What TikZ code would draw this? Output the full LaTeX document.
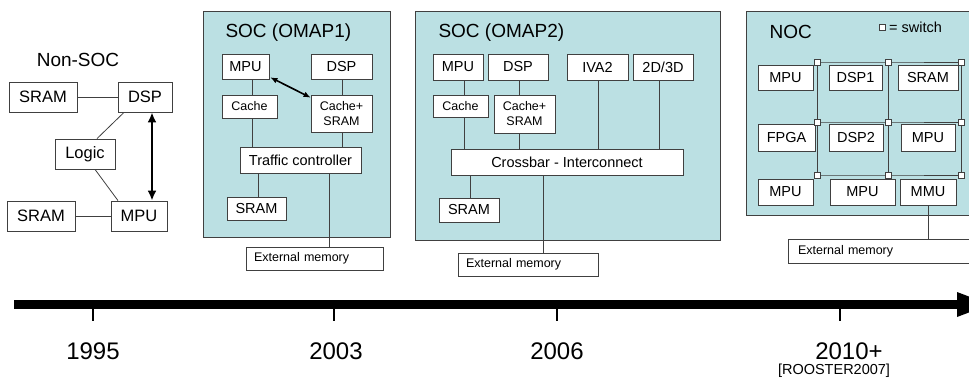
\documentclass[tikz,border=0pt]{standalone}
\usepackage{fontspec}
\setmainfont{Liberation Sans}
\usetikzlibrary{arrows.meta}
\definecolor{socfill}{HTML}{BBE0E3}
\definecolor{edge}{HTML}{404040}
\tikzset{
  box/.style={draw=edge, fill=white, line width=0.8pt, inner sep=0pt, align=center},
  soc/.style={draw=edge, fill=socfill, line width=1pt, inner sep=0pt},
  lbl/.style={font=\fontsize{14.5}{17}\selectfont},
  sml/.style={font=\fontsize{12.5}{15}\selectfont},
  big/.style={font=\fontsize{16.5}{19}\selectfont},
  ttl/.style={font=\fontsize{19}{22}\selectfont},
  yearlbl/.style={font=\fontsize{24}{28}\selectfont},
  conn/.style={draw=edge, line width=0.8pt},
  dbl/.style={{Latex[length=10pt,width=9pt]}-{Latex[length=10pt,width=9pt]}, line width=2.2pt},
  dblsm/.style={{Latex[length=7pt,width=6pt]}-{Latex[length=7pt,width=6pt]}, line width=1.6pt},
  switchbox/.style={draw=edge, fill=white, line width=0.7pt, minimum size=6pt, inner sep=0pt},
  tick/.style={line width=2pt},
}
% box helper: style, x1, y1, x2, y2, node name; text follows
\newcommand\bx[6]{\node[box,#1,minimum width={#4-#2},minimum height={#5-#3}] (#6) at ({(#2+#4)/2},{(#3+#5)/2})}
\begin{document}
\begin{tikzpicture}[x=1pt,y=-1pt]
\useasboundingbox (0,0) rectangle (969,383);

% ---------------- Non-SOC ----------------
\node[ttl] (tNon) at (78,60) {Non-SOC};
\bx{big}{9}{82}{77}{112}{sramA}{SRAM};
\bx{big}{118}{82}{172}{112}{dspA}{DSP};
\bx{big}{55}{139}{115}{169}{logicA}{Logic};
\bx{big}{7}{201}{75}{231}{sramB}{SRAM};
\bx{big}{111}{201}{167}{231}{mpuA}{MPU};
\draw[conn] (sramA) -- (dspA);
\draw[conn] (sramB) -- (mpuA);
\draw[conn] (logicA.north -| 97,0) -- (dspA.south -| 124,0);
\draw[conn] (logicA.south -| 95,0) -- (mpuA.north -| 118,0);
\draw[dbl] (dspA.south -| 152,0) -- (mpuA.north -| 152,0);

% ---------------- SOC (OMAP1) ----------------
\bx{soc}{203}{11}{390}{237}{socA}{};
\node[ttl,anchor=west] (tA) at (222,33) {SOC (OMAP1)};
\bx{lbl}{222}{54}{269}{79}{mpuB}{MPU};
\bx{lbl}{311}{54}{372}{79}{dspB}{DSP};
\bx{sml}{222}{95}{277}{118}{cacheB}{Cache};
\bx{sml}{311}{95}{372}{132}{csB}{Cache+\\SRAM};
\bx{lbl}{240}{147}{361}{173}{tcB}{Traffic controller};
\bx{lbl}{227}{197}{286}{220}{sramC}{SRAM};
\bx{sml,text width=121,align=left}{246}{247}{383}{270}{extB}{External memory};
\draw[conn] (mpuB.south -| 252,0) -- (cacheB.north -| 252,0);
\draw[conn] (cacheB.south -| 252,0) -- (tcB.north -| 252,0);
\draw[conn] (dspB.south -| 342,0) -- (csB.north -| 342,0);
\draw[conn] (csB.south -| 342,0) -- (tcB.north -| 342,0);
\draw[conn] (tcB.south -| 258,0) -- (sramC.north -| 258,0);
\draw[conn] (tcB.south -| 329,0) -- (extB.north -| 329,0);
\draw[dblsm] ([xshift=1pt,yshift=2pt]mpuB.south east) -- ([yshift=-3pt]csB.north west);

% ---------------- SOC (OMAP2) ----------------
\bx{soc}{415}{11}{720}{240}{socB}{};
\node[ttl,anchor=west] (tB) at (435,33) {SOC (OMAP2)};
\bx{lbl}{433}{54}{483}{80}{mpuC}{MPU};
\bx{lbl}{488}{54}{548}{80}{dspC}{DSP};
\bx{lbl}{567}{54}{628}{80}{ivaC}{IVA2};
\bx{lbl}{633}{54}{693}{80}{gfxC}{2D/3D};
\bx{sml}{433}{95}{488}{117}{cacheC}{Cache};
\bx{sml}{494}{95}{555}{133}{csC}{Cache+\\SRAM};
\bx{lbl}{451}{149}{683}{175}{xbC}{Crossbar - Interconnect};
\bx{lbl}{439}{198}{499}{222}{sramD}{SRAM};
\bx{sml,text width=124,align=left}{458}{253}{598}{276}{extC}{External memory};
\draw[conn] (mpuC.south -| 464,0) -- (cacheC.north -| 464,0);
\draw[conn] (cacheC.south -| 464,0) -- (xbC.north -| 464,0);
\draw[conn] (dspC.south -| 519,0) -- (csC.north -| 519,0);
\draw[conn] (csC.south -| 519,0) -- (xbC.north -| 519,0);
\draw[conn] (ivaC.south -| 598,0) -- (xbC.north -| 598,0);
\draw[conn] (gfxC.south -| 659,0) -- (xbC.north -| 659,0);
\draw[conn] (xbC.south -| 470,0) -- (sramD.north -| 470,0);
\draw[conn] (xbC.south -| 543,0) -- (extC.north -| 543,0);

% ---------------- NOC ----------------
\bx{soc}{746}{11}{995}{215}{socC}{};
\node[ttl,anchor=west] (tC) at (766,32) {NOC};
\node[switchbox] (legsw) at (882,27) {};
\node[lbl,anchor=west,inner sep=0pt] (legtxt) at (889,27) {= switch};
\foreach \i/\xx in {1/817,2/888,3/961}{
  \foreach \j/\yy in {1/62,2/122,3/175}{
    \coordinate (g\i\j) at (\xx,\yy);
  }
}
\draw[conn] (g11) -- (g21) -- (g31);
\draw[conn] (g12) -- (g22) -- (g32);
\draw[conn] (g13) -- (g23) -- (g33);
\draw[conn] (g11) -- (g12) -- (g13);
\draw[conn] (g21) -- (g22) -- (g23);
\draw[conn] (g31) -- (g32) -- (g33);
\bx{lbl}{758}{65}{813}{90}{nA}{MPU};
\bx{lbl}{829}{65}{882}{90}{nB}{DSP1};
\bx{lbl}{898}{65}{958}{90}{nC}{SRAM};
\bx{lbl}{758}{124}{815}{151}{nD}{FPGA};
\bx{lbl}{829}{124}{883}{151}{nE}{DSP2};
\bx{lbl}{901}{124}{955}{151}{nF}{MPU};
\bx{lbl}{758}{179}{813}{205}{nG}{MPU};
\bx{lbl}{830}{179}{895}{205}{nH}{MPU};
\bx{lbl}{900}{179}{956}{205}{nI}{MMU};
\foreach \i in {1,2,3}{
  \foreach \j in {1,2,3}{
    \node[switchbox] (s\i\j) at (g\i\j) {};
  }
}
\bx{sml,text width=187,align=left}{788}{239}{995}{263}{extD}{External memory};
\draw[conn] (nI.south -| 928,0) -- (extD.north -| 928,0);

% ---------------- Timeline ----------------
\coordinate (tl0) at (14,304.5);
\coordinate (tl1) at (957,304.5);
\draw[line width=9pt] (tl0) -- (tl1);
\fill (957,292) -- (957,317) -- (990,304.5) -- cycle;
\foreach \xx/\nm in {93/a,334/b,557/c,840/d}{
  \coordinate (tk\nm) at (\xx,309);
  \draw[tick] (tk\nm) -- ++(0,12);
}
\node[yearlbl] (y1995) at (93,351) {1995};
\node[yearlbl] (y2003) at (336,351) {2003};
\node[yearlbl] (y2006) at (557,351) {2006};
\node[yearlbl] (y2010) at (849,351) {2010+};
\node[font=\fontsize{14.5}{17}\selectfont] (ref) at (834,371) {[ROOSTER2007]};
\end{tikzpicture}
\end{document}
